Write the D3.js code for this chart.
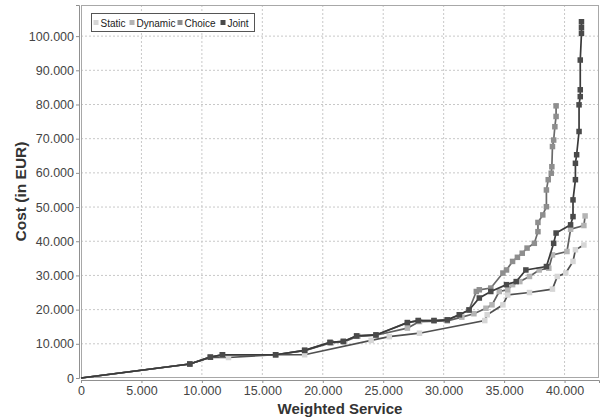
<!DOCTYPE html>
<html><head><meta charset="utf-8">
<script src="https://cdn.jsdelivr.net/npm/d3@7"></script>
<style>body{margin:0;background:#fff}svg{display:block}</style>
</head><body>
<svg id="c" width="604" height="420"></svg>
<script>
const seriesNames = ["Static","Dynamic","Choice","Joint"];
const xTicks = [0,5000,10000,15000,20000,25000,30000,35000,40000];
const yTicks = [0,10000,20000,30000,40000,50000,60000,70000,80000,90000,100000];

const staticData = [[0,0],[9000,4100],[10700,6100],[12200,6000],[16100,6800],[18500,6800],[24000,11000],[25500,12100],[28000,13100],[33400,16800],[33600,18500],[34900,21400],[35300,24300],[37100,25000],[39000,26000],[39400,29700],[40100,30700],[40700,34100],[40900,37500],[41600,38900]];
const dynamicData = [[0,0],[9000,4100],[10700,6100],[11700,6800],[16100,6800],[18500,8000],[20700,10300],[21800,10600],[22900,12200],[24400,12500],[27000,14600],[28000,16500],[30300,16700],[31500,17800],[32500,18800],[33500,20400],[34000,21400],[34600,25300],[35300,25800],[35700,27300],[36300,28200],[37100,29700],[37900,31600],[38700,32100],[39000,36000],[40200,37000],[40500,43500],[41600,44600],[41700,47400]];
const choiceData = [[0,0],[9000,4100],[10700,6100],[11700,6800],[16100,6800],[18500,8100],[20600,10400],[21700,10700],[22800,12300],[24400,12600],[27000,16200],[27900,16800],[29200,16800],[30300,17000],[31300,18500],[32100,19900],[32700,25300],[32950,25800],[33900,26300],[34900,30700],[35200,31600],[35700,34100],[36100,35300],[36500,36500],[36900,38000],[37500,39400],[37800,42800],[37800,45500],[38200,47700],[38500,50100],[38500,55000],[38650,58000],[38900,59900],[38950,61800],[39000,67700],[39100,69600],[39200,73500],[39300,76500],[39300,79600]];
const jointData = [[0,0],[9000,4100],[10700,6100],[11700,6800],[16100,6800],[18500,8100],[20600,10400],[21700,10700],[22800,12300],[24400,12600],[27000,16200],[27900,16800],[29200,16800],[30300,17000],[31300,18500],[32100,19900],[32950,23400],[33900,25300],[35200,27300],[36000,28200],[36800,31600],[38500,32600],[39100,39400],[39300,42400],[40500,44800],[40700,47200],[40700,52100],[40900,58000],[40900,62800],[41000,65300],[41200,72100],[41200,79900],[41300,82300],[41300,84300],[41300,93000],[41400,100800],[41400,102500],[41400,104200]];

const allData = [staticData, dynamicData, choiceData, jointData];
const markerColors = ["#d6d6d6","#b4b4b4","#8e8e8e","#4a4a4a"];
const lineColors = ["#505050","#606060","#6a6a6a","#3a3a3a"];

const svg = d3.select("#c");
const L = 81, R = 599, T = 5, B = 378;
const x = d3.scaleLinear().domain([0,42850]).range([L,R]);
const y = d3.scaleLinear().domain([0,109100]).range([B,T]);

svg.append("rect").attr("x",L).attr("y",T).attr("width",R-L).attr("height",B-T).attr("fill","#fff");

// grid
const g = svg.append("g");
g.selectAll("line.vx").data(xTicks.slice(1)).enter().append("line")
  .attr("x1",d=>x(d)).attr("x2",d=>x(d)).attr("y1",T).attr("y2",B)
  .attr("stroke","#c8c8c8").attr("stroke-dasharray","2,2").attr("stroke-width",1);
g.selectAll("line.hy").data(yTicks.slice(1)).enter().append("line")
  .attr("y1",d=>y(d)).attr("y2",d=>y(d)).attr("x1",L).attr("x2",R)
  .attr("stroke","#c8c8c8").attr("stroke-dasharray","2,2").attr("stroke-width",1);

svg.append("rect").attr("x",L+0.5).attr("y",T+0.5).attr("width",R-L-1).attr("height",B-T-1)
  .attr("fill","none").attr("stroke","#a8a8a8");

// axes
const fmt = d => d3.format(",")(d).replace(/,/g,".");
const xAxis = d3.axisBottom(x).tickValues(xTicks).tickFormat(fmt).tickSize(3).tickPadding(3);
const yAxis = d3.axisLeft(y).tickValues(yTicks).tickFormat(fmt).tickSize(3).tickPadding(2);
const gx = svg.append("g").attr("transform",`translate(0,${B+2})`).call(xAxis);
const gy = svg.append("g").attr("transform",`translate(${L-2},0)`).call(yAxis);
[gx,gy].forEach(a=>{
  a.select(".domain").attr("stroke","#909090");
  a.selectAll(".tick line").attr("stroke","#909090");
  a.selectAll("text").attr("font-family","Liberation Sans, Arial, sans-serif").attr("font-size","12.5px").attr("fill","#444");
});

// series
const line = d3.line().x(d=>x(d[0])).y(d=>y(d[1]));
allData.forEach((data,i)=>{
  svg.append("path").datum(data).attr("d",line).attr("fill","none")
    .attr("stroke",lineColors[i]).attr("stroke-width",1.7);
  svg.append("g").selectAll("rect").data(data.slice(1)).enter().append("rect")
    .attr("x",d=>x(d[0])-2.75).attr("y",d=>y(d[1])-2.75).attr("width",5.5).attr("height",5.5)
    .attr("fill",markerColors[i]);
});

// legend
const lg = svg.append("g");
lg.append("rect").attr("x",91.5).attr("y",13.5).attr("width",163).attr("height",18)
  .attr("fill","#fff").attr("stroke","#555");
const legX = [96,132,180,223];
seriesNames.forEach((n,i)=>{
  lg.append("rect").attr("x",legX[i]-2.5).attr("y",20).attr("width",5).attr("height",5).attr("fill",markerColors[i]);
  lg.append("text").attr("x",legX[i]+4.5).attr("y",26.5).text(n)
    .attr("font-family","Liberation Sans, Arial, sans-serif").attr("font-size","10px").attr("fill","#222");
});

// titles
svg.append("text").attr("x",(L+R)/2).attr("y",414).attr("text-anchor","middle")
  .attr("font-family","Liberation Sans, Arial, sans-serif").attr("font-weight","bold").attr("font-size","15px").attr("fill","#333")
  .text("Weighted Service");
svg.append("text").attr("transform",`translate(26,${(T+B)/2}) rotate(-90)`).attr("text-anchor","middle")
  .attr("font-family","Liberation Sans, Arial, sans-serif").attr("font-weight","bold").attr("font-size","15.5px").attr("fill","#333")
  .text("Cost (in EUR)");
</script>
</body></html>
